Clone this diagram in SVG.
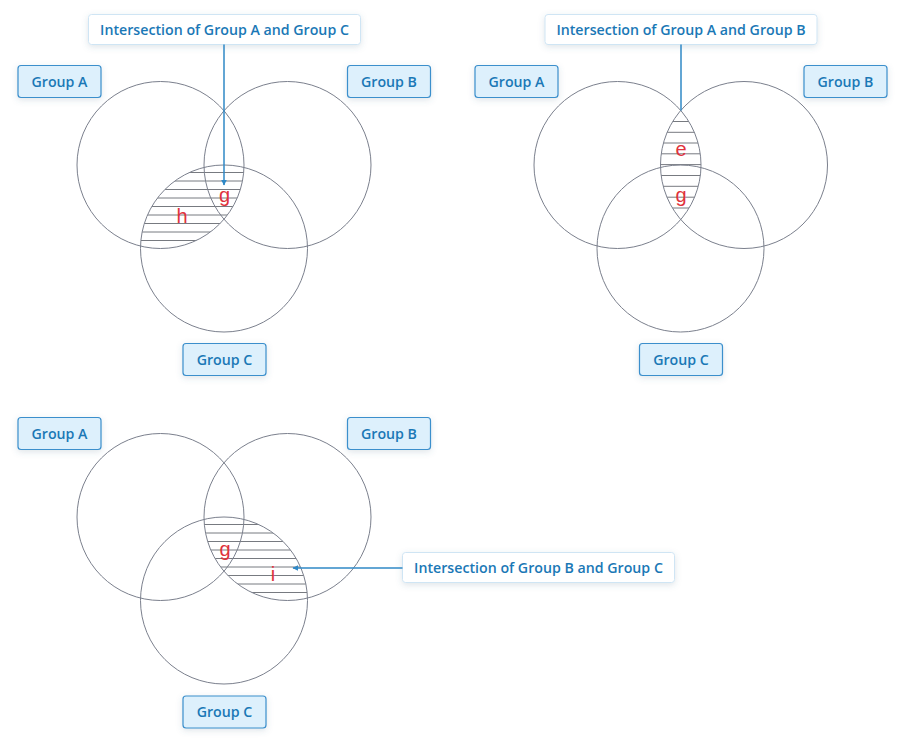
<svg xmlns="http://www.w3.org/2000/svg" width="902" height="741" viewBox="0 0 902 741">
<style>
.c{fill:none;stroke:#7b808d;stroke-width:1}
.h{stroke:#777a80;stroke-width:1}
.lb{fill:#ddf0fc;stroke:#3b8fcc;stroke-width:1.2}
.cb{fill:#ffffff;stroke:#cfe5f4;stroke-width:1}
.t{font-family:"Open Sans","Liberation Sans",sans-serif;font-weight:600;font-size:14.2px;fill:#1a78b6;text-anchor:middle}
.r{font-family:"Liberation Sans",Arial,sans-serif;font-size:20px;fill:#e0323c;text-anchor:middle}
.ln{stroke:#2f88c6;stroke-width:1.5;fill:none}
</style>
<defs>
<filter id="sh" x="-20%" y="-40%" width="140%" height="180%">
<feDropShadow dx="0" dy="2" stdDeviation="3" flood-color="#4a6a85" flood-opacity="0.18"/>
</filter>
<marker id="ar" viewBox="0 0 10 10" refX="9" refY="5" markerWidth="6" markerHeight="6" markerUnits="userSpaceOnUse" orient="auto">
<path d="M0,0 L10,5 L0,10 z" fill="#2f88c6"/>
</marker>
<clipPath id="cA1"><circle cx="160.5" cy="165" r="83.5"/></clipPath>
<clipPath id="cC1"><circle cx="224" cy="248.5" r="83.5"/></clipPath>
<clipPath id="cA2"><circle cx="617.5" cy="165" r="83.5"/></clipPath>
<clipPath id="cB2"><circle cx="744" cy="165" r="83.5"/></clipPath>
<clipPath id="cB3"><circle cx="287.5" cy="517" r="83.5"/></clipPath>
<clipPath id="cC3"><circle cx="224" cy="600.5" r="83.5"/></clipPath>
</defs>

<!-- Diagram 1: A and C -->
<g id="venn1">
<g clip-path="url(#cA1)"><g clip-path="url(#cC1)">
<line class="h" x1="60" x2="320" y1="172.5" y2="172.5"/>
<line class="h" x1="60" x2="320" y1="181" y2="181"/>
<line class="h" x1="60" x2="320" y1="189.5" y2="189.5"/>
<line class="h" x1="60" x2="320" y1="198" y2="198"/>
<line class="h" x1="60" x2="320" y1="206.5" y2="206.5"/>
<line class="h" x1="60" x2="320" y1="215" y2="215"/>
<line class="h" x1="60" x2="320" y1="223.5" y2="223.5"/>
<line class="h" x1="60" x2="320" y1="232" y2="232"/>
<line class="h" x1="60" x2="320" y1="240.5" y2="240.5"/>
</g></g>
<circle class="c" cx="160.5" cy="165" r="83.5"/>
<circle class="c" cx="287.5" cy="165" r="83.5"/>
<circle class="c" cx="224" cy="248.5" r="83.5"/>
<text class="r" x="224.5" y="201.5">g</text>
<text class="r" x="182" y="222.5">h</text>
</g>
<g id="v1-groupA"><rect class="lb" x="18" y="65.5" width="83" height="32" rx="3" filter="url(#sh)"/><text class="t" x="59.5" y="86.5">Group A</text></g>
<g id="v1-groupB"><rect class="lb" x="347.5" y="65.5" width="83" height="32" rx="3" filter="url(#sh)"/><text class="t" x="389" y="86.5">Group B</text></g>
<g id="v1-groupC"><rect class="lb" x="183" y="343.5" width="83" height="32" rx="3" filter="url(#sh)"/><text class="t" x="224.5" y="364.5">Group C</text></g>
<g id="v1-callout"><rect class="cb" x="88.5" y="14.5" width="272" height="30" rx="3" filter="url(#sh)"/><text class="t" x="224.5" y="34.5">Intersection of Group A and Group C</text></g>

<!-- Diagram 2: A and B -->
<g id="venn2">
<g clip-path="url(#cA2)"><g clip-path="url(#cB2)">
<line class="h" x1="600" x2="760" y1="121.5" y2="121.5"/>
<line class="h" x1="600" x2="760" y1="132.3" y2="132.3"/>
<line class="h" x1="600" x2="760" y1="143" y2="143"/>
<line class="h" x1="600" x2="760" y1="153.8" y2="153.8"/>
<line class="h" x1="600" x2="760" y1="164.6" y2="164.6"/>
<line class="h" x1="600" x2="760" y1="175.5" y2="175.5"/>
<line class="h" x1="600" x2="760" y1="186.3" y2="186.3"/>
<line class="h" x1="600" x2="760" y1="197.2" y2="197.2"/>
<line class="h" x1="600" x2="760" y1="208" y2="208"/>
</g></g>
<circle class="c" cx="617.5" cy="165" r="83.5"/>
<circle class="c" cx="744" cy="165" r="83.5"/>
<circle class="c" cx="680.5" cy="248.5" r="83.5"/>
<text class="r" x="681" y="155.5">e</text>
<text class="r" x="681" y="202">g</text>
</g>
<g id="v2-groupA"><rect class="lb" x="475" y="65.5" width="83" height="32" rx="3" filter="url(#sh)"/><text class="t" x="516.5" y="86.5">Group A</text></g>
<g id="v2-groupB"><rect class="lb" x="804" y="65.5" width="83" height="32" rx="3" filter="url(#sh)"/><text class="t" x="845.5" y="86.5">Group B</text></g>
<g id="v2-groupC"><rect class="lb" x="639.5" y="343.5" width="83" height="32" rx="3" filter="url(#sh)"/><text class="t" x="681" y="364.5">Group C</text></g>
<g id="v2-callout"><rect class="cb" x="545" y="14.5" width="272" height="30" rx="3" filter="url(#sh)"/><text class="t" x="681" y="34.5">Intersection of Group A and Group B</text></g>

<!-- Diagram 3: B and C -->
<g id="venn3">
<g clip-path="url(#cB3)"><g clip-path="url(#cC3)">
<line class="h" x1="180" x2="330" y1="524.5" y2="524.5"/>
<line class="h" x1="180" x2="330" y1="533" y2="533"/>
<line class="h" x1="180" x2="330" y1="541.5" y2="541.5"/>
<line class="h" x1="180" x2="330" y1="550" y2="550"/>
<line class="h" x1="180" x2="330" y1="558.5" y2="558.5"/>
<line class="h" x1="180" x2="330" y1="567" y2="567"/>
<line class="h" x1="180" x2="330" y1="575.5" y2="575.5"/>
<line class="h" x1="180" x2="330" y1="584" y2="584"/>
<line class="h" x1="180" x2="330" y1="592.5" y2="592.5"/>
</g></g>
<circle class="c" cx="160.5" cy="517" r="83.5"/>
<circle class="c" cx="287.5" cy="517" r="83.5"/>
<circle class="c" cx="224" cy="600.5" r="83.5"/>
<text class="r" x="225" y="556">g</text>
<text class="r" x="273" y="580.5">i</text>
</g>
<g id="v3-groupA"><rect class="lb" x="18" y="417.5" width="83" height="32" rx="3" filter="url(#sh)"/><text class="t" x="59.5" y="438.5">Group A</text></g>
<g id="v3-groupB"><rect class="lb" x="347.5" y="417.5" width="83" height="32" rx="3" filter="url(#sh)"/><text class="t" x="389" y="438.5">Group B</text></g>
<g id="v3-groupC"><rect class="lb" x="183" y="696" width="83" height="32" rx="3" filter="url(#sh)"/><text class="t" x="224.5" y="717">Group C</text></g>
<g id="v3-callout"><rect class="cb" x="402.5" y="552.5" width="272" height="30" rx="3" filter="url(#sh)"/><text class="t" x="538.5" y="572.5">Intersection of Group B and Group C</text></g>

<g id="connectors">
<line class="ln" x1="224" y1="44.5" x2="224" y2="185" marker-end="url(#ar)"/>
<line class="ln" x1="681" y1="44.5" x2="681" y2="110.5"/>
<line class="ln" x1="402.5" y1="568" x2="293" y2="568" marker-end="url(#ar)"/>
</g>
</svg>
